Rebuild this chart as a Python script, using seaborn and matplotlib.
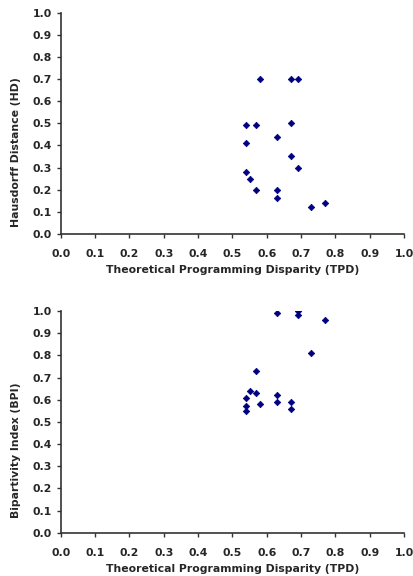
import numpy as np
import pandas as pd
import matplotlib
matplotlib.use("Agg")
import matplotlib.pyplot as plt
import seaborn as sns

# -----------------------------
# DATA
# -----------------------------

tpd_hd = [0.58, 0.67, 0.69, 0.54, 0.57, 0.67, 0.63, 0.54, 0.67,
          0.69, 0.54, 0.55, 0.57, 0.63, 0.63, 0.73, 0.77]
hd = [0.70, 0.70, 0.70, 0.49, 0.49, 0.50, 0.44, 0.41, 0.35,
      0.30, 0.28, 0.25, 0.20, 0.20, 0.16, 0.12, 0.14]

tpd_bpi = [0.63, 0.69, 0.69, 0.77, 0.73, 0.57, 0.55, 0.57,
           0.54, 0.63, 0.63, 0.58, 0.67, 0.67, 0.54, 0.54]
bpi = [0.99, 1.00, 0.98, 0.96, 0.81, 0.73, 0.64, 0.63,
       0.61, 0.62, 0.59, 0.58, 0.59, 0.56, 0.57, 0.55]

ticks = np.round(np.arange(0, 1.01, 0.1), 1)
tick_labels = [f"{t:.1f}" for t in ticks]

x_label = "Theoretical Programming Disparity (TPD)"
y_labels = ["Hausdorff Distance (HD)", "Bipartivity Index (BPI)"]

# -----------------------------
# FIGURE
# -----------------------------

sns.set_style("ticks")
plt.rcParams['font.family'] = ['DejaVu Sans']

fig = plt.figure(figsize=(4.14, 5.76), dpi=100)
ax1 = fig.add_axes([0.147, 0.594, 0.829, 0.384])
ax2 = fig.add_axes([0.147, 0.075, 0.829, 0.385])

frames = [
    pd.DataFrame({'x': tpd_hd, 'y': hd}),
    pd.DataFrame({'x': tpd_bpi, 'y': bpi}),
]

for ax, df, ylab in zip([ax1, ax2], frames, y_labels):
    sns.scatterplot(
        data=df, x='x', y='y', ax=ax,
        marker='D', s=11, color='#000080',
        edgecolor='#000080', linewidth=0.5
    )
    ax.set_xlim(0, 1.0)
    ax.set_ylim(0, 1.0)
    ax.set_xticks(ticks)
    ax.set_yticks(ticks)
    ax.set_xticklabels(tick_labels, fontsize=7.8, fontweight='bold')
    ax.set_yticklabels(tick_labels, fontsize=7.8, fontweight='bold')
    ax.set_xlabel(x_label, fontsize=7.8, fontweight='bold', labelpad=4)
    ax.set_ylabel(ylab, fontsize=7.8, fontweight='bold')
    # label sits lower than the axis centre in the original
    ax.yaxis.set_label_coords(-0.115, 0.37)
    ax.tick_params(axis='x', length=3, width=1, color='#333333', pad=8)
    ax.tick_params(axis='y', length=3, width=1, color='#333333', pad=3.5)
    sns.despine(ax=ax)
    for side in ['left', 'bottom']:
        ax.spines[side].set_linewidth(1.2)
        ax.spines[side].set_color('#333333')

plt.savefig("out.png", dpi=100)
